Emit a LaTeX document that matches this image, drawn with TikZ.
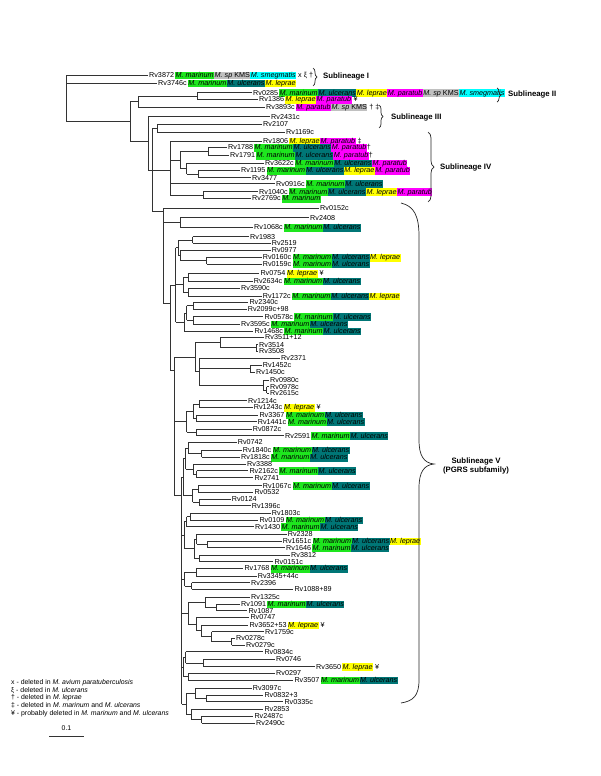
\documentclass[tikz,border=0pt]{standalone}
\usepackage{fontspec}
\setmainfont{Liberation Sans}
\usetikzlibrary{decorations.pathreplacing}
\definecolor{cmar}{RGB}{30,230,30}
\definecolor{cul}{RGB}{0,118,118}
\definecolor{clep}{RGB}{255,255,0}
\definecolor{cpar}{RGB}{255,0,255}
\definecolor{ckms}{RGB}{192,192,192}
\definecolor{csmeg}{RGB}{0,255,255}
\newcommand\hb[2]{{\setlength\fboxsep{0pt}\colorbox{#1}{\rule[-1.7pt]{0pt}{7.7pt}\hspace{0.5pt}#2\hspace{0.5pt}}}}
\newcommand\hMar{\hb{cmar}{\itshape M. marinum}}
\newcommand\hUlc{\hb{cul}{\itshape M. ulcerans}}
\newcommand\hLep{\hb{clep}{\itshape M. leprae}}
\newcommand\hPar{\hb{cpar}{\itshape M. paratub}}
\newcommand\hKms{\hb{ckms}{\itshape M. sp\/\upshape\ KMS}}
\newcommand\hSmg{\hb{csmeg}{\itshape M. smegmatis}}
\newcommand\lv[4]{\coordinate (#1) at (#2,#3); \node[leaf] (#1t) at (#1) {#4};}
\newcommand\nd[3]{\coordinate (#1) at (#2,#3);}
\newcommand\cl[4]{\draw[br] (#1 |- #2) -- (#1 |- #3); \foreach \chd in {#4}{\draw[br] (#1 |- \chd) -- (\chd);}}
\tikzset{
  leaf/.style={anchor=west, inner xsep=1pt, inner ysep=0pt, text height=5.2pt, text depth=0pt, font=\fontsize{7.2}{8}\selectfont},
  br/.style={line width=0.75pt, draw=black!80},
  brc/.style={decorate, decoration={brace, amplitude=4pt}, line width=0.7pt, draw=black!85},
  sub/.style={anchor=west, inner sep=0pt, font=\fontsize{7.8}{9.4}\selectfont\bfseries},
  leg/.style={anchor=base west, inner sep=0pt, font=\fontsize{6.9}{8}\selectfont},
}
\begin{document}
\begin{tikzpicture}[x=1pt, y=-1pt]
\fill[white] (0,0) rectangle (600,776);
\useasboundingbox (0,0) rectangle (600,776);
% ---------- leaves ----------
\lv{l3872}{148}{75}{Rv3872\,\hMar\hKms\hSmg{} x ξ †}
\lv{l3746}{157}{83}{Rv3746c\,\hMar\hUlc\hLep}
\lv{l0285}{252}{92.7}{Rv0285\,\hMar\hUlc\hLep\hPar\hKms\hSmg}
\lv{l1386}{258}{99.3}{Rv1386\,\hLep\hPar{} ¥}
\lv{l3893}{265}{107}{Rv3893c\,\hPar\hKms{} † ‡}
\lv{l2431}{270}{116.7}{Rv2431c}
\lv{l2107}{262}{124.3}{Rv2107}
\lv{l1169}{285}{132.3}{Rv1169c}
\lv{l1806}{262}{141}{Rv1806\,\hLep\hPar{} ‡}
\lv{l1788}{227}{147.3}{Rv1788\,\hMar\hUlc\hPar†}
\lv{l1791}{229}{155.3}{Rv1791\,\hMar\hUlc\hPar†}
\lv{l3622}{264}{163.3}{Rv3622c\,\hMar\hUlc\hPar}
\lv{l1195}{240}{170.3}{Rv1195\,\hMar\hUlc\hLep\hPar}
\lv{l3477}{251}{177.7}{Rv3477}
\lv{l0916}{275}{183.7}{Rv0916c\,\hMar\hUlc}
\lv{l1040}{258}{191.7}{Rv1040c\,\hMar\hUlc\hLep\hPar}
\lv{l2769}{251}{198.3}{Rv2769c\,\hMar}
\lv{l0152}{319}{208.3}{Rv0152c}
\lv{l2408}{309}{217.7}{Rv2408}
\lv{l1068}{253}{227.3}{Rv1068c\,\hMar\hUlc}
\lv{l1983}{249}{236.7}{Rv1983}
\lv{l2519}{270.7}{243.3}{Rv2519}
\lv{l0977}{270.7}{250}{Rv0977}
\lv{l0160}{261.7}{257.3}{Rv0160c\,\hMar\hUlc\hLep}
\lv{l0159}{261.7}{264}{Rv0159c\,\hMar\hUlc}
\lv{l0754}{259.3}{273.3}{Rv0754\,\hLep{} ¥}
\lv{l2634}{252.7}{281}{Rv2634c\,\hMar\hUlc}
\lv{l3590}{240}{288.3}{Rv3590c}
\lv{l1172}{261.7}{296}{Rv1172c\,\hMar\hUlc\hLep}
\lv{l2340}{248.3}{302.3}{Rv2340c}
\lv{l2099}{246.7}{309}{Rv2099c+98}
\lv{l0578}{263.3}{316.7}{Rv0578c\,\hMar\hUlc}
\lv{l3595}{240}{324}{Rv3595c\,\hMar\hUlc}
\lv{l1468}{253.3}{331}{Rv1468c\,\hMar\hUlc}
\lv{l3511}{264}{337.3}{Rv3511+12}
\lv{l3514}{258}{344.7}{Rv3514}
\lv{l3508}{258}{351}{Rv3508}
\lv{l2371}{280}{358.3}{Rv2371}
\lv{l1452}{261.7}{365}{Rv1452c}
\lv{l1450}{255}{372.3}{Rv1450c}
\lv{l0980}{269}{380}{Rv0980c}
\lv{l0978}{269}{386.7}{Rv0978c}
\lv{l2615}{269}{393.3}{Rv2615c}
\lv{l1214}{247}{400.7}{Rv1214c}
\lv{l1243}{252.7}{407.3}{Rv1243c\,\hLep{} ¥}
\lv{l3367}{258.3}{415}{Rv3367\,\hMar\hUlc}
\lv{l1441}{256.7}{421.7}{Rv1441c\,\hMar\hUlc}
\lv{l0872}{251.7}{429}{Rv0872c}
\lv{l2591}{284}{435.7}{Rv2591\,\hMar\hUlc}
\lv{l0742}{236.7}{442.3}{Rv0742}
\lv{l1840}{241.7}{450}{Rv1840c\,\hMar\hUlc}
\lv{l1818}{240}{457.3}{Rv1818c\,\hMar\hUlc}
\lv{l3388}{246}{464}{Rv3388}
\lv{l2162}{248.3}{470.7}{Rv2162c\,\hMar\hUlc}
\lv{l2741}{253.3}{477.7}{Rv2741}
\lv{l1067}{261.7}{485.7}{Rv1067c\,\hMar\hUlc}
\lv{l0532}{253.3}{492.3}{Rv0532}
\lv{l0124}{230.7}{499}{Rv0124}
\lv{l1396}{250.7}{505.7}{Rv1396c}
\lv{l1803}{270.7}{513.3}{Rv1803c}
\lv{l0109}{258.3}{520}{Rv0109\,\hMar\hUlc}
\lv{l1430}{254}{526.7}{Rv1430\,\hMar\hUlc}
\lv{l2328}{286.7}{534}{Rv2328}
\lv{l1651}{281.7}{541}{Rv1651c\,\hMar\hUlc\hLep}
\lv{l1646}{285}{547.7}{Rv1646\,\hMar\hUlc}
\lv{l3812}{290}{555}{Rv3812}
\lv{l0151}{273.3}{561.7}{Rv0151c}
\lv{l1768}{243.3}{568.3}{Rv1768\,\hMar\hUlc}
\lv{l3345}{256.7}{576}{Rv3345+44c}
\lv{l2396}{250}{582.7}{Rv2396}
\lv{l1088}{293.3}{589.3}{Rv1088+89}
\lv{l1325}{250}{597.3}{Rv1325c}
\lv{l1091}{240}{604}{Rv1091\,\hMar\hUlc}
\lv{l1087}{247.3}{610.7}{Rv1087}
\lv{l0747}{249.3}{617.3}{Rv0747}
\lv{l3652}{248.3}{625}{Rv3652+53\,\hLep{} ¥}
\lv{l1759}{264}{631.7}{Rv1759c}
\lv{l0278}{235}{638.3}{Rv0278c}
\lv{l0279}{245}{645}{Rv0279c}
\lv{l0834}{263.3}{651.7}{Rv0834c}
\lv{l0746}{275}{659.3}{Rv0746}
\lv{l3650}{315}{666.7}{Rv3650\,\hLep{} ¥}
\lv{l0297}{275}{673.3}{Rv0297}
\lv{l3507}{293.3}{680}{Rv3507\,\hMar\hUlc}
\lv{l3097}{251.7}{688.3}{Rv3097c}
\lv{l0832}{263.3}{695}{Rv0832+3}
\lv{l0335}{283.3}{701.7}{Rv0335c}
\lv{l2853}{263.3}{709.3}{Rv2853}
\lv{l2487}{253.3}{716}{Rv2487c}
\lv{l2490}{255}{723.3}{Rv2490c}
% ---------- internal nodes ----------
\nd{R}{66}{98}
\nd{N1}{130}{121.7}
\nd{N2}{138}{101.3}
\nd{n197}{197}{96}
\nd{N3}{148}{141.7}
\nd{N6}{152}{170}
\nd{N5}{157}{128.3}
\nd{S4}{170}{170}
\nd{s362}{180.7}{160}
\nd{s445}{208}{151.3}
\nd{s380}{186.7}{168.7}
\nd{s415}{198}{174}
\nd{s430}{203}{195}
\nd{V0}{163.3}{211.7}
\nd{G2}{180}{222.5}
\nd{V1}{170}{303.3}
\nd{VA}{175.5}{285}
\nd{G3}{178}{247.7}
\nd{n1983}{192.7}{240}
\nd{n362}{180.7}{255.3}
\nd{n440}{206.7}{260.7}
\nd{G4}{183.3}{284.7}
\nd{n385a}{188.3}{277.2}
\nd{n385b}{188.3}{292.2}
\nd{G5}{184}{322}
\nd{n380}{186.7}{313}
\nd{n400}{193.3}{305.7}
\nd{n398}{193.3}{320.3}
\nd{VB}{174.3}{370}
\nd{G6}{195}{357}
\nd{n480}{220}{342.5}
\nd{n590}{256}{347.8}
\nd{nd}{199.3}{371.7}
\nd{n570}{250}{368.7}
\nd{nb}{263.3}{385}
\nd{na}{266.7}{390}
\nd{G7}{186.7}{421.7}
\nd{ng}{193.3}{411.2}
\nd{n418}{199.3}{404}
\nd{nh}{196.5}{418.3}
\nd{n410}{196.7}{432.3}
\nd{VC}{181.7}{495}
\nd{G8}{183}{477}
\nd{n380b}{185.5}{458.5}
\nd{n383}{188}{448}
\nd{n425}{201.7}{453.7}
\nd{n400b}{193.3}{469}
\nd{n410b}{196.7}{474.2}
\nd{n398b}{192.7}{495.7}
\nd{n415}{198.3}{489}
\nd{n418c}{199.3}{502.3}
\nd{G9}{184}{535}
\nd{nl}{186.5}{521.7}
\nd{nk}{190}{516.7}
\nd{nm}{194}{548.8}
\nd{n410c}{196.7}{539.2}
\nd{n442}{207.3}{544.3}
\nd{n418d}{199.3}{558.3}
\nd{G10}{184.7}{579}
\nd{n408}{196}{572.2}
\nd{n395}{191.7}{586}
\nd{G11}{188}{613}
\nd{n435}{205}{602.3}
\nd{n470}{216.7}{607.3}
\nd{n410p}{196.7}{624}
\nd{n425p}{201.7}{630.8}
\nd{n455}{211.7}{636.7}
\nd{n515}{231.7}{641.7}
\nd{G12}{183.3}{667}
\nd{n375}{185.5}{657.3}
\nd{n430p}{203.3}{663}
\nd{n385p}{188.3}{676.7}
\nd{G13}{186.7}{704}
\nd{n285}{195}{693.3}
\nd{n320}{206.7}{698.3}
\nd{n275}{191.7}{714.5}
\nd{n305}{201.7}{719.7}
% ---------- clades ----------
\cl{R}{l3872}{N1}{l3872,l3746,N1}
\cl{N1}{N2}{N3}{N2,N3}
\cl{N2}{n197}{l3893}{n197,l3893}
\cl{n197}{l0285}{l1386}{l0285,l1386}
\cl{N3}{l2431}{N6}{l2431,N6}
\cl{N6}{N5}{V0}{N5,S4,V0}
\cl{N5}{l2107}{l1169}{l2107,l1169}
\cl{S4}{l1806}{s430}{l1806,s362,l0916,s430}
\cl{s362}{s445}{s380}{s445,s380}
\cl{s445}{l1788}{l1791}{l1788,l1791}
\cl{s380}{l3622}{s415}{l3622,s415}
\cl{s415}{l1195}{l3477}{l1195,l3477}
\cl{s430}{l1040}{l2769}{l1040,l2769}
\cl{V0}{l0152}{V1}{l0152,G2,V1}
\cl{G2}{l2408}{l1068}{l2408,l1068}
\cl{V1}{VA}{VB}{VA,VB}
\cl{VA}{G3}{G5}{G3,G4,G5}
\cl{G3}{n1983}{n362}{n1983,n362}
\cl{n1983}{l1983}{l2519}{l1983,l2519}
\cl{n362}{l0977}{n440}{l0977,n440}
\cl{n440}{l0160}{l0159}{l0160,l0159}
\cl{G4}{n385a}{n385b}{n385a,n385b}
\cl{n385a}{l0754}{l2634}{l0754,l2634}
\cl{n385b}{l3590}{l1172}{l3590,l1172}
\cl{G5}{n380}{l1468}{n380,l1468}
\cl{n380}{n400}{n398}{n400,n398}
\cl{n400}{l2340}{l2099}{l2340,l2099}
\cl{n398}{l0578}{l3595}{l0578,l3595}
\cl{VB}{G6}{VC}{G6,G7,VC}
\cl{G6}{n480}{nd}{n480,nd}
\cl{n480}{l3511}{n590}{l3511,n590}
\cl{n590}{l3514}{l3508}{l3514,l3508}
\cl{nd}{l2371}{nb}{l2371,n570,nb}
\cl{n570}{l1452}{l1450}{l1452,l1450}
\cl{nb}{l0980}{na}{l0980,na}
\cl{na}{l0978}{l2615}{l0978,l2615}
\cl{G7}{ng}{n410}{ng,n410}
\cl{ng}{n418}{nh}{n418,nh}
\cl{n418}{l1214}{l1243}{l1214,l1243}
\cl{nh}{l3367}{l1441}{l3367,l1441}
\cl{n410}{l0872}{l2591}{l0872,l2591}
\cl{VC}{G8}{G13}{G8,G9,G10,G11,G12,G13}
\cl{G8}{n380b}{n398b}{n380b,n398b}
\cl{n380b}{n383}{n400b}{n383,n400b}
\cl{n383}{l0742}{n425}{l0742,n425}
\cl{n425}{l1840}{l1818}{l1840,l1818}
\cl{n400b}{l3388}{n410b}{l3388,n410b}
\cl{n410b}{l2162}{l2741}{l2162,l2741}
\cl{n398b}{n415}{n418c}{n415,n418c}
\cl{n415}{l1067}{l0532}{l1067,l0532}
\cl{n418c}{l0124}{l1396}{l0124,l1396}
\cl{G9}{nl}{nm}{nl,nm}
\cl{nl}{nk}{l1430}{nk,l1430}
\cl{nk}{l1803}{l0109}{l1803,l0109}
\cl{nm}{n410c}{n418d}{n410c,n418d}
\cl{n410c}{l2328}{n442}{l2328,n442}
\cl{n442}{l1651}{l1646}{l1651,l1646}
\cl{n418d}{l3812}{l0151}{l3812,l0151}
\cl{G10}{n408}{n395}{n408,n395}
\cl{n408}{l1768}{l3345}{l1768,l3345}
\cl{n395}{l2396}{l1088}{l2396,l1088}
\cl{G11}{n435}{n410p}{n435,n410p}
\cl{n435}{l1325}{n470}{l1325,n470}
\cl{n470}{l1091}{l1087}{l1091,l1087}
\cl{n410p}{l0747}{n425p}{l0747,n425p}
\cl{n425p}{l3652}{n455}{l3652,n455}
\cl{n455}{l1759}{n515}{l1759,n515}
\cl{n515}{l0278}{l0279}{l0278,l0279}
\cl{G12}{n375}{n385p}{n375,n385p}
\cl{n375}{l0834}{n430p}{l0834,n430p}
\cl{n430p}{l0746}{l3650}{l0746,l3650}
\cl{n385p}{l0297}{l3507}{l0297,l3507}
\cl{G13}{n285}{n275}{n285,n275}
\cl{n285}{l3097}{n320}{l3097,n320}
\cl{n320}{l0832}{l0335}{l0832,l0335}
\cl{n275}{l2853}{n305}{l2853,n305}
\cl{n305}{l2487}{l2490}{l2487,l2490}
% ---------- sublineage braces ----------
\coordinate (b1a) at (313,68);  \coordinate (b1b) at (313,86);
\coordinate (b2a) at (497,88);  \coordinate (b2b) at (497,102);
\coordinate (b3a) at (379,105); \coordinate (b3b) at (379,128);
\coordinate (b4a) at (428,132); \coordinate (b4b) at (428,202);
\draw[brc] (b1a) -- (b1b);
\draw[brc] (b2a) -- (b2b);
\draw[brc] (b3a) -- (b3b);
\draw[brc, decoration={amplitude=6pt}] (b4a) -- (b4b);
\node[sub] (s1) at (323,77) {Sublineage I};
\node[sub] (s2) at (508,94.5) {Sublineage II};
\node[sub] (s3) at (391,117.7) {Sublineage III};
\node[sub] (s4) at (440,167) {Sublineage IV};
\coordinate (b5a) at (401,203);
\coordinate (b5t) at (434,464);
\coordinate (b5b) at (401,703);
\draw[line width=0.7pt, draw=black!85] (b5a) .. controls (414,206) and (419,216) .. (419,236)
  -- (419,440) .. controls (419,456) and (424,463) .. (b5t)
  .. controls (424,465) and (419,472) .. (419,488)
  -- (419,680) .. controls (419,696) and (413,701) .. (b5b);
\node[sub, anchor=center, align=center] (s5) at (476,466) {Sublineage V\\(PGRS subfamily)};
% ---------- legend ----------
\node[leg] (g1) at (11,684.7) {x - deleted in \textit{M. avium paratuberculosis}};
\node[leg] (g2) at (11,692.4) {ξ - deleted in \textit{M. ulcerans}};
\node[leg] (g3) at (11,699.7) {† - deleted in \textit{M. leprae}};
\node[leg] (g4) at (11,707.4) {‡ - deleted in \textit{M. marinum} and \textit{M. ulcerans}};
\node[leg] (g5) at (11,715.1) {¥ - probably deleted in \textit{M. marinum} and \textit{M. ulcerans}};
\node[leg, anchor=base] (sc) at (66.5,730.8) {0.1};
\coordinate (sbl) at (49.3,736.7); \coordinate (sbr) at (84.3,736.7);
\draw[br] (sbl) -- (sbr);
\end{tikzpicture}
\end{document}
